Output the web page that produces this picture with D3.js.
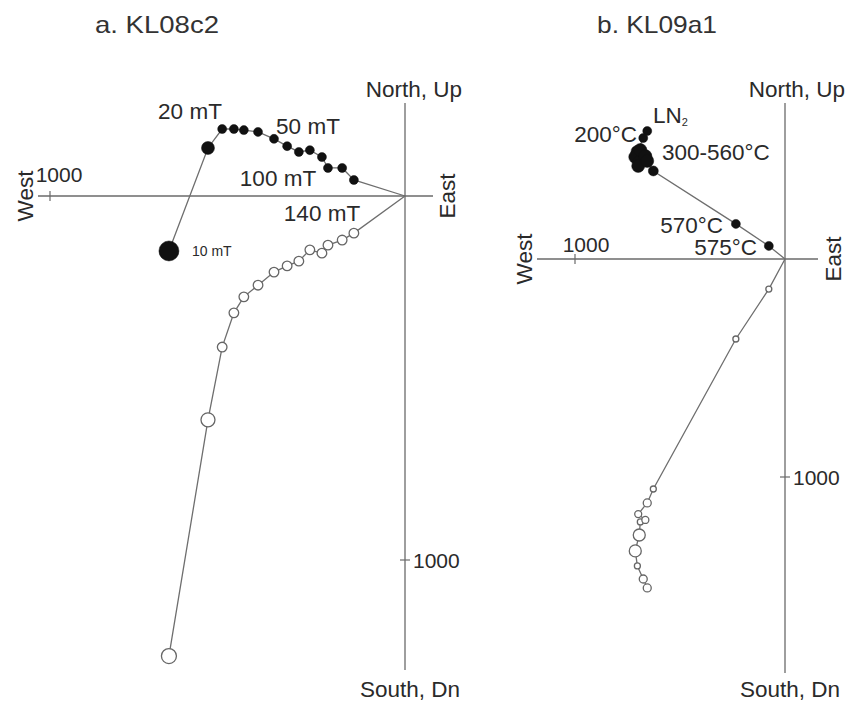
<!DOCTYPE html>
<html><head><meta charset="utf-8">
<script src="https://cdn.jsdelivr.net/npm/d3@7"></script>
<style>body{margin:0;background:#fff}text{font-family:Arial,"Liberation Sans",sans-serif}</style>
</head><body>
<svg id="c" width="848" height="702"></svg>
<script>
// ---------- Panel a: KL08c2 (AF demagnetisation) ----------
const aEast  = [-665,-555,-515,-482,-454,-414,-369,-332,-299,-268,-234,-217,-177,-144];
const aNorth = [-151, 132, 184, 184, 181, 176, 157, 137, 121, 126, 107,  77,  77,  44];
const aUp    = [-1264,-615,-415,-321,-277,-245,-209,-192,-179,-148,-157,-135,-121,-102];
const aSizeN = [10,6.5,4.5,4.5,4.5,4.5,4.5,4.5,4.5,4.5,4.5,4.5,4.5,4.5];
const aSizeU = [7.5,7,4.8,4.8,4.8,4.8,4.8,4.8,4.8,4.8,4.8,4.8,4.8,4.8];
const aLabels = ["10 mT","20 mT","50 mT","100 mT","140 mT"];
// ---------- Panel b: KL09a1 (thermal demagnetisation) ----------
const bEast  = [-656,-675,-703,-713,-694,-689,-665,-699,-656,-627,-234,-77];
const bNorth = [ 587, 555, 491, 468, 445, 500, 472, 427, 450, 404, 161, 60];
const bUp    = [-1509,-1468,-1408,-1339,-1266,-1206,-1197,-1170,-1119,-1055,-367,-138];
const bSizeN = [4.5,4.5,6.5,6.5,6.5,6.5,6.5,6.5,6.5,5,4.5,4.5];
const bSizeU = [4,4,3,6,6,3,3.5,3.5,4,3,3,3];
const bLabels = ["LN","200°C","300-560°C","570°C","575°C"];
const tickValue = [1000];
const titles = ["a. KL08c2","b. KL09a1"];

const svg = d3.select("#c");
const ink = "#2a2a2a", lineC = "#6e6e6e", axisC = "#6a6a6a";
const FS_DIR = 22.5, FS_TICK = 21, FS_LAB = 22.5;

function panel(cfg){
  const g = svg.append("g");
  const x = d3.scaleLinear().domain([-1000,0]).range(cfg.xr);
  const y = d3.scaleLinear().domain([0,-1000]).range(cfg.yr);
  const ox = x(0), oy = y(0);
  g.append("line").attr("x1",cfg.hx[0]).attr("x2",cfg.hx[1]).attr("y1",oy).attr("y2",oy).attr("stroke",axisC).attr("stroke-width",1.3);
  g.append("line").attr("x1",ox).attr("x2",ox).attr("y1",cfg.vy[0]).attr("y2",cfg.vy[1]).attr("stroke",axisC).attr("stroke-width",1.3);
  tickValue.forEach(t=>{
    g.append("line").attr("x1",x(-t)).attr("x2",x(-t)).attr("y1",oy-5).attr("y2",oy+5).attr("stroke",axisC).attr("stroke-width",1.2);
    g.append("line").attr("x1",ox-5).attr("x2",ox+5).attr("y1",y(-t)).attr("y2",y(-t)).attr("stroke",axisC).attr("stroke-width",1.2);
    g.append("text").attr("x",x(-t)+cfg.htOff[0]).attr("y",oy+cfg.htOff[1]).attr("text-anchor","middle").attr("font-size",FS_TICK).attr("fill",ink).text(t);
    g.append("text").attr("x",ox+8).attr("y",y(-t)+7.5).attr("font-size",FS_TICK).attr("fill",ink).text(t);
  });
  g.append("text").attr("x",cfg.nx).attr("y",97).attr("text-anchor","middle").attr("font-size",FS_DIR).attr("fill",ink).text("North, Up");
  g.append("text").attr("x",cfg.sx).attr("y",697).attr("text-anchor","middle").attr("font-size",FS_DIR).attr("fill",ink).text("South, Dn");
  g.append("text").attr("transform",`translate(${cfg.wx},${oy}) rotate(-90)`).attr("text-anchor","middle").attr("font-size",FS_DIR).attr("fill",ink).text("West");
  g.append("text").attr("transform",`translate(${cfg.ex},${oy}) rotate(-90)`).attr("text-anchor","middle").attr("font-size",FS_DIR).attr("fill",ink).text("East");
  g.append("text").attr("x",cfg.tx).attr("y",33).attr("text-anchor","middle").attr("font-size",24).attr("fill","#333")
    .attr("textLength",cfg.tl).attr("lengthAdjust","spacingAndGlyphs").text(cfg.title);
  const lineGen = d3.line().x(d=>x(d[0])).y(d=>y(d[1]));
  const nPts = cfg.e.map((e,i)=>[e,cfg.n[i]]);
  const uPts = cfg.e.map((e,i)=>[e,cfg.u[i]]);
  g.append("path").attr("d",lineGen(nPts.concat([[0,0]]))).attr("fill","none").attr("stroke",lineC).attr("stroke-width",1.3);
  g.append("path").attr("d",lineGen(uPts.concat([[0,0]]))).attr("fill","none").attr("stroke",lineC).attr("stroke-width",1.3);
  g.selectAll(".o").data(uPts).join("circle").attr("cx",d=>x(d[0])).attr("cy",d=>y(d[1])).attr("r",(d,i)=>cfg.su[i])
    .attr("fill","#fff").attr("stroke","#666").attr("stroke-width",1.3);
  g.selectAll(".f").data(nPts).join("circle").attr("cx",d=>x(d[0])).attr("cy",d=>y(d[1])).attr("r",(d,i)=>cfg.sn[i])
    .attr("fill","#111").attr("stroke","#111").attr("stroke-width",0.5);
  return {g,x,y};
}

const A = panel({xr:[50,405], yr:[196,560], hx:[38,433], vy:[103,670], e:aEast,n:aNorth,u:aUp,sn:aSizeN,su:aSizeU,
  htOff:[9,-14], nx:414, sx:410, wx:33, ex:455, tx:157, tl:124, title:titles[0]});
const B = panel({xr:[575,785], yr:[259,477], hx:[537,818], vy:[103,673], e:bEast,n:bNorth,u:bUp,sn:bSizeN,su:bSizeU,
  htOff:[11,-7], nx:797, sx:790, wx:532, ex:841, tx:657, tl:120, title:titles[1]});

const ag = A.g;
ag.append("text").attr("x",190).attr("y",119).attr("text-anchor","middle").attr("font-size",FS_LAB).attr("fill",ink).text(aLabels[1]);
ag.append("text").attr("x",308).attr("y",134).attr("text-anchor","middle").attr("font-size",FS_LAB).attr("fill",ink).text(aLabels[2]);
ag.append("text").attr("x",278).attr("y",186).attr("text-anchor","middle").attr("font-size",FS_LAB).attr("fill",ink).text(aLabels[3]);
ag.append("text").attr("x",322).attr("y",221).attr("text-anchor","middle").attr("font-size",FS_LAB).attr("fill",ink).text(aLabels[4]);
ag.append("text").attr("x",192).attr("y",256).attr("font-size",14).attr("fill",ink).text(aLabels[0]);
const bg = B.g;
const ln = bg.append("text").attr("x",653).attr("y",123).attr("font-size",FS_LAB).attr("fill",ink);
ln.append("tspan").text(bLabels[0]);
ln.append("tspan").attr("font-size",11).attr("dy",3).text("2");
bg.append("text").attr("x",637).attr("y",142).attr("text-anchor","end").attr("font-size",FS_LAB).attr("fill",ink).text(bLabels[1]);
bg.append("text").attr("x",662).attr("y",160).attr("font-size",FS_LAB).attr("fill",ink).text(bLabels[2]);
bg.append("text").attr("x",723).attr("y",233).attr("text-anchor","end").attr("font-size",FS_LAB).attr("fill",ink).text(bLabels[3]);
bg.append("text").attr("x",757).attr("y",255).attr("text-anchor","end").attr("font-size",FS_LAB).attr("fill",ink).text(bLabels[4]);
</script>
</body></html>
